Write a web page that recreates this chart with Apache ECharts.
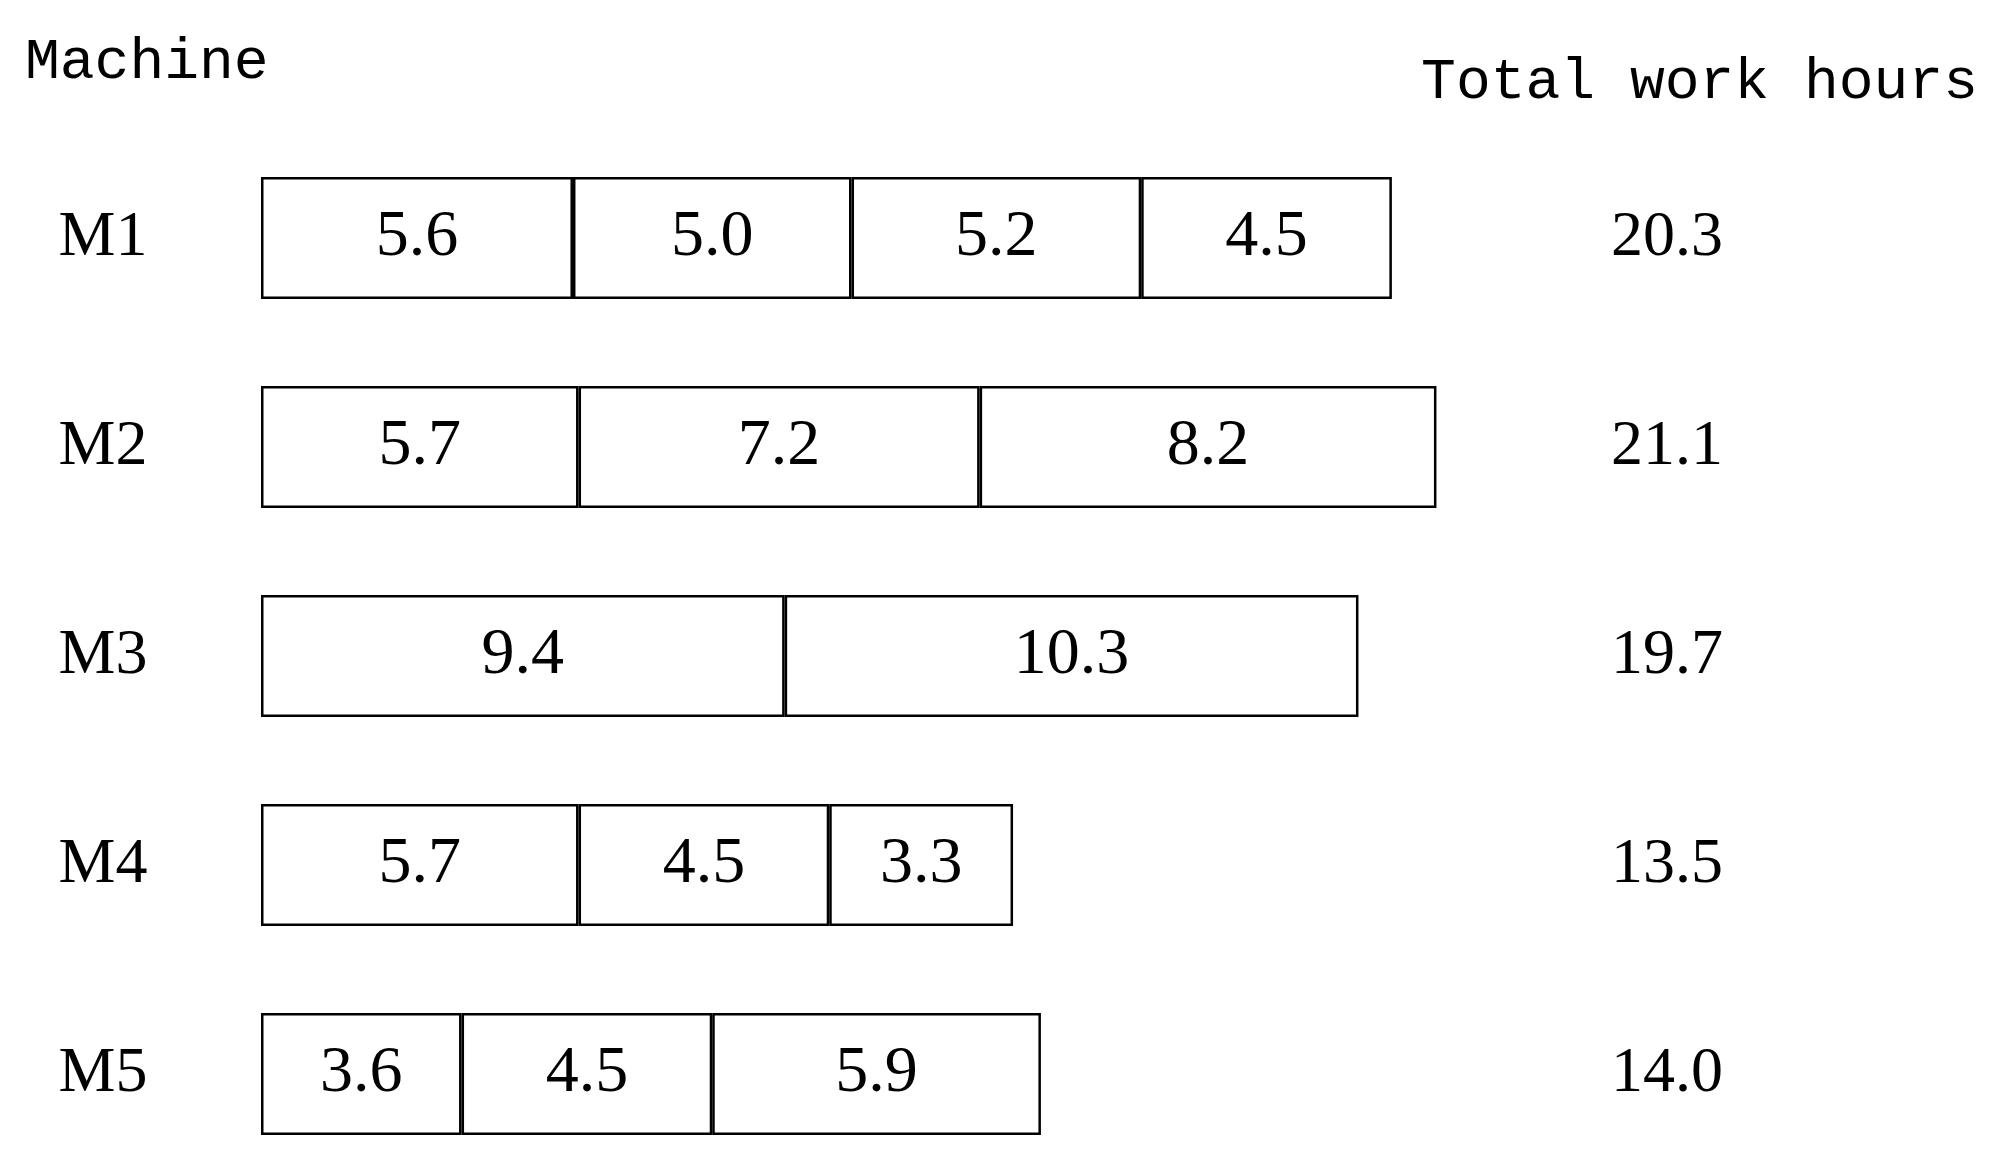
<!DOCTYPE html>
<html>
<head>
<meta charset="utf-8">
<script src="https://cdn.jsdelivr.net/npm/echarts@6/dist/echarts.min.js"></script>
<style>html,body{margin:0;padding:0;background:#fff}#c{width:1995px;height:1160px}</style>
</head>
<body>
<div id="c"></div>
<script>
const machines = ['M1', 'M2', 'M3', 'M4', 'M5'];
const op1 = [5.6, 5.7, 9.4, 5.7, 3.6];
const op2 = [5.0, 7.2, 10.3, 4.5, 4.5];
const op3 = [5.2, 8.2, null, 3.3, 5.9];
const op4 = [4.5, null, null, null, null];
const totals = [20.3, 21.1, 19.7, 13.5, 14.0];
const leftTitle = 'Machine';
const rightTitle = 'Total work hours';

const chart = echarts.init(document.getElementById('c'), null, {renderer: 'canvas'});
const segFont = '"Liberation Serif", "Times New Roman", serif';
function seg(name, data) {
  return {
    name: name, type: 'bar', stack: 'all', data: data,
    barWidth: 122,
    itemStyle: {color: '#ffffff', borderColor: '#000000', borderWidth: 2.5},
    label: {
      show: true, position: 'inside', color: '#000',
      fontFamily: segFont, fontSize: 66,
      formatter: p => (p.value == null ? '' : Number(p.value).toFixed(1))
    },
    emphasis: {disabled: true}, silent: true, animation: false
  };
}
chart.setOption({
  animation: false,
  backgroundColor: '#ffffff',
  grid: {left: 261, top: 238, right: 397, bottom: 86, containLabel: false},
  xAxis: {type: 'value', min: 0, max: 24, show: false},
  yAxis: [
    {type: 'category', data: machines, inverse: true, boundaryGap: false,
     axisLine: {show: false}, axisTick: {show: false}, splitLine: {show: false},
     axisLabel: {margin: 158, align: 'center', color: '#000', fontFamily: segFont, fontSize: 64}},
    {type: 'category', data: totals.map(v => v.toFixed(1)), inverse: true, boundaryGap: false, position: 'right',
     axisLine: {show: false}, axisTick: {show: false}, splitLine: {show: false},
     axisLabel: {margin: 69, align: 'center', color: '#000', fontFamily: segFont, fontSize: 64}}
  ],
  graphic: [
    {type: 'text', left: 25, top: 34, style: {text: leftTitle, fill: '#000', font: '58px "Liberation Mono", monospace'}},
    {type: 'text', right: 17, top: 54, style: {text: rightTitle, fill: '#000', font: '58px "Liberation Mono", monospace'}}
  ],
  series: [seg('op1', op1), seg('op2', op2), seg('op3', op3), seg('op4', op4)]
});
</script>
</body>
</html>
